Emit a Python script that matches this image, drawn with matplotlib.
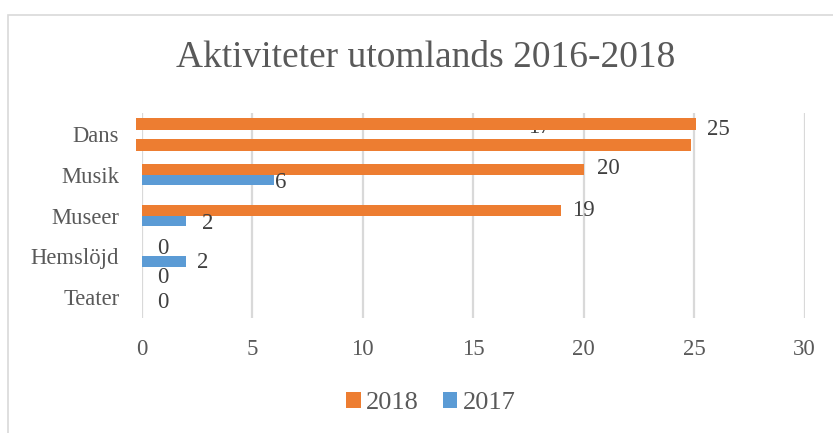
import numpy as np
import matplotlib
matplotlib.use("Agg")
import matplotlib.pyplot as plt
from matplotlib.patches import Patch, Rectangle

plt.rcParams['font.family'] = ['Liberation Serif', 'DejaVu Serif']

# ---- data ----
categories = ['Teater', 'Hemslöjd', 'Museer', 'Musik', 'Dans']
values_2018 = [0, 0, 19, 20, 25]
values_2017 = [0, 2, 2, 6, 17]
# In the source picture the Dans 2017 bar is covered by a second orange bar
dans_cover_value = 24.85
series_names = ['2018', '2017']
xticks = [0, 5, 10, 15, 20, 25, 30]

# ---- style ----
ORANGE = '#ED7D31'
BLUE = '#5B9BD5'
TEXT = '#595959'
GRID = '#D9D9D9'

W, H = 833, 433
fig = plt.figure(figsize=(W / 100, H / 100), dpi=100)

# outer chart frame
fig.patches.append(Rectangle((8 / W, -0.1), 1.2, 1 - 15 / H + 0.1,
                             transform=fig.transFigure, fill=False,
                             edgecolor=GRID, linewidth=1.2))

ax = fig.add_axes([141.5 / W, (H - 317.8) / H, 663 / W, 204.4 / H])
ax.set_xlim(0, 30)
ax.set_ylim(-0.5, 4.5)

y = np.arange(len(categories))
bh = 0.26
pos18 = y + 0.13
pos17 = y - 0.13
n = len(categories)

# regular bars (all except Dans)
for i in range(n - 1):
    ax.barh(pos18[i], values_2018[i], height=bh, color=ORANGE, zorder=3)
    ax.barh(pos17[i], values_2017[i], height=bh, color=BLUE, zorder=3)

# Dans as drawn in the source
dans_top = 4.24
dans_low = 3.725
dh = 0.29
ax.barh(dans_low, values_2017[-1], height=dh, color=BLUE, zorder=2)
b1 = ax.barh(dans_top, values_2018[-1] + 0.3, left=-0.23, height=dh,
             color=ORANGE, zorder=4)
b2 = ax.barh(dans_low, dans_cover_value + 0.23, left=-0.23, height=dh,
             color=ORANGE, zorder=4)
for p in list(b1) + list(b2):
    p.set_clip_on(False)

# data labels (offsets in px: dx from bar end, dy downward)
lab_fs = 16.5
off18 = [(15.5, -15), (15.5, -3), (11, 0), (13, -1), (13, 5)]
off17 = [(15.5, 0), (11, 1), (16, 3), (1, 2), (11, -18)]
ypos18 = list(pos18[:-1]) + [dans_top]
ypos17 = list(pos17[:-1]) + [dans_low]
for i in range(n):
    dx, dy = off18[i]
    ax.annotate(str(values_2018[i]), (values_2018[i], ypos18[i]),
                xytext=(dx * 0.72, -dy * 0.72), textcoords='offset points',
                ha='left', va='center', fontsize=lab_fs, color='#404040',
                zorder=5, annotation_clip=False)
    dx, dy = off17[i]
    ax.annotate(str(values_2017[i]), (values_2017[i], ypos17[i]),
                xytext=(dx * 0.72, -dy * 0.72), textcoords='offset points',
                ha='left', va='center', fontsize=lab_fs, color='#404040',
                zorder=3, annotation_clip=False)

ax.set_xticks(xticks)
ax.set_xticklabels([str(t) for t in xticks])
ax.set_yticks(y)
ax.set_yticklabels(categories)
ax.tick_params(axis='x', length=0, pad=15, labelsize=16.5, labelcolor=TEXT)
ax.tick_params(axis='y', length=0, pad=16, labelsize=16.3, labelcolor=TEXT)
for s in ax.spines.values():
    s.set_visible(False)
ax.grid(axis='x', color=GRID, linewidth=1.6, zorder=0)
ax.set_axisbelow(True)

fig.text(426 / W, 1 - 58 / H, 'Aktiviteter utomlands 2016-2018',
         ha='center', va='center', fontsize=27, color=TEXT)

handles = [Patch(facecolor=ORANGE), Patch(facecolor=BLUE)]
leg = fig.legend(handles, series_names, loc='center', bbox_to_anchor=(431 / W, 1 - 403 / H),
                 ncol=2, frameon=False, fontsize=19, handlelength=0.55,
                 handleheight=0.55, handletextpad=0.2, columnspacing=0.9,
                 borderaxespad=0, borderpad=0)
for t in leg.get_texts():
    t.set_color(TEXT)

fig.savefig('out.png', dpi=100)
